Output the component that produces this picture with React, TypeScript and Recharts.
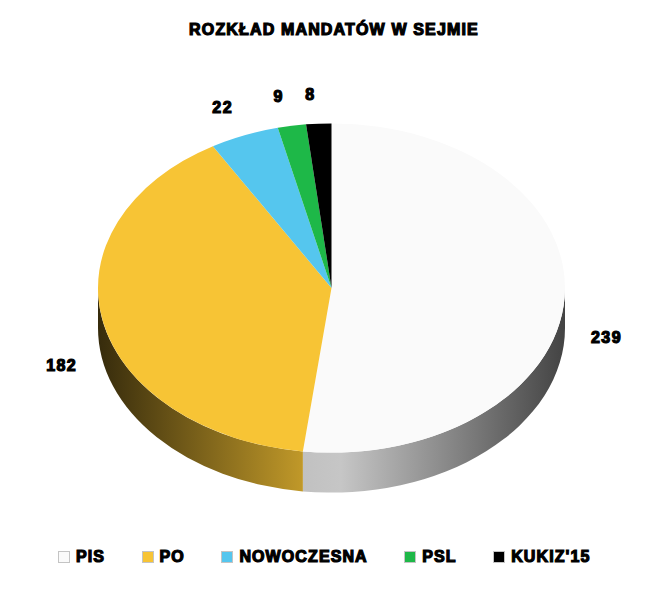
import React from "react";
import { PieChart, Pie, Legend } from "recharts";

const parties = ["PIS", "PO", "NOWOCZESNA", "PSL", "KUKIZ'15"];
const seats = [239, 182, 22, 9, 8];
const colors = ["#fafafa", "#f7c435", "#55c6ee", "#1eb848", "#000000"];

const data = parties.map((name, i) => ({ name, value: seats[i], fill: colors[i] }));

const CX = 331.5;
const CY = 288;
const RX = 233.5;
const RY_RATIO = 0.705;
const DEPTH = 40;
const FONT = "'Liberation Sans', Arial, sans-serif";

const rad = (a: number) => (a * Math.PI) / 180;

// shade stops for the side wall, left to right
const shades = [
  [0, 0.22],
  [0.44, 0.78],
  [0.52, 0.8],
  [0.75, 0.55],
  [1, 0.27],
];

const shade = (hex: string, f: number) => {
  const n = parseInt(hex.slice(1), 16);
  const r = Math.round(((n >> 16) & 255) * f);
  const g = Math.round(((n >> 8) & 255) * f);
  const b = Math.round((n & 255) * f);
  return `rgb(${r},${g},${b})`;
};

const Slice = (props: any) => {
  const { cx, cy, outerRadius, startAngle, endAngle, fill, index } = props;
  const rx = outerRadius;
  const ry = outerRadius * RY_RATIO;
  const pt = (a: number) => [cx + rx * Math.cos(rad(a)), cy - ry * Math.sin(rad(a))];
  const [x1, y1] = pt(startAngle);
  const [x2, y2] = pt(endAngle);
  const large = Math.abs(startAngle - endAngle) > 180 ? 1 : 0;

  const wallFrom = Math.min(startAngle, 0);
  const wallTo = Math.max(endAngle, -180);
  let wall = null;
  if (wallFrom > wallTo) {
    const [wx1, wy1] = pt(wallFrom);
    const [wx2, wy2] = pt(wallTo);
    const id = `wall-${index}`;
    wall = (
      <>
        <linearGradient id={id} gradientUnits="userSpaceOnUse" x1={cx - rx} x2={cx + rx} y1={0} y2={0}>
          {shades.map(([o, f]) => (
            <stop key={o} offset={o} stopColor={shade(fill === "#fafafa" ? "#f8f8f8" : fill, f)} />
          ))}
        </linearGradient>
        <path
          d={`M${wx1},${wy1} A${rx},${ry} 0 0 1 ${wx2},${wy2} L${wx2},${wy2 + DEPTH} A${rx},${ry} 0 0 0 ${wx1},${wy1 + DEPTH} Z`}
          fill={`url(#${id})`}
        />
      </>
    );
  }

  return (
    <g>
      {wall}
      <path d={`M${cx},${cy} L${x1},${y1} A${rx},${ry} 0 ${large} 1 ${x2},${y2} Z`} fill={fill} />
    </g>
  );
};

const renderLabel = (props: any) => {
  const { cx, cy, outerRadius, midAngle, value } = props;
  const k = 1.18;
  const s = Math.sin(rad(midAngle));
  const x = cx + k * outerRadius * Math.cos(rad(midAngle)) + (s > 0.5 ? -6 : 0);
  const y = cy - k * outerRadius * RY_RATIO * s + (s < 0.5 ? 38 : 0);
  return (
    <text
      x={x}
      y={y}
      textAnchor="middle"
      dominantBaseline="central"
      fontFamily={FONT}
      fontWeight="bold"
      fontSize={16}
      letterSpacing={1.4}
      fill="#000"
      stroke="#000"
      strokeWidth={1.2}
    >
      {value}
    </text>
  );
};

const renderLegend = () => (
  <div style={{ display: "flex", gap: 36.5, paddingLeft: 58, whiteSpace: "nowrap" }}>
    {parties.map((name, i) => (
      <div key={name} style={{ display: "flex", alignItems: "center", gap: 6 }}>
        <span
          style={{
            width: 10,
            height: 10,
            background: colors[i],
            border: "1px solid #c4c4c4",
            display: "inline-block",
          }}
        />
        <span
          style={{
            fontFamily: FONT,
            fontWeight: "bold",
            fontSize: 16,
            color: "#000",
            WebkitTextStroke: "1.2px #000",
            letterSpacing: 1.1,
          }}
        >
          {name}
        </span>
      </div>
    ))}
  </div>
);

export default function App() {
  return (
    <div style={{ position: "absolute", left: 0, top: 0, width: 663, height: 593, background: "#fff" }}>
      <PieChart width={663} height={593} margin={{ top: 0, right: 0, bottom: 0, left: 0 }}>
        <text
          x={334}
          y={29}
          textAnchor="middle"
          dominantBaseline="central"
          fontFamily={FONT}
          fontWeight="bold"
          fontSize={16}
          letterSpacing={1.15}
          fill="#000"
          stroke="#000"
          strokeWidth={1.2}
        >
          ROZKŁAD MANDATÓW W SEJMIE
        </text>
        <Pie
          data={data}
          dataKey="value"
          nameKey="name"
          cx={CX}
          cy={CY}
          outerRadius={RX}
          startAngle={90}
          endAngle={-270}
          stroke="none"
          label={renderLabel}
          labelLine={false}
          shape={Slice}
          isAnimationActive={false}
        />
        <Legend
          content={renderLegend}
          verticalAlign="bottom"
          wrapperStyle={{ left: 0, top: 548, bottom: "auto", width: 663 }}
        />
      </PieChart>
    </div>
  );
}
